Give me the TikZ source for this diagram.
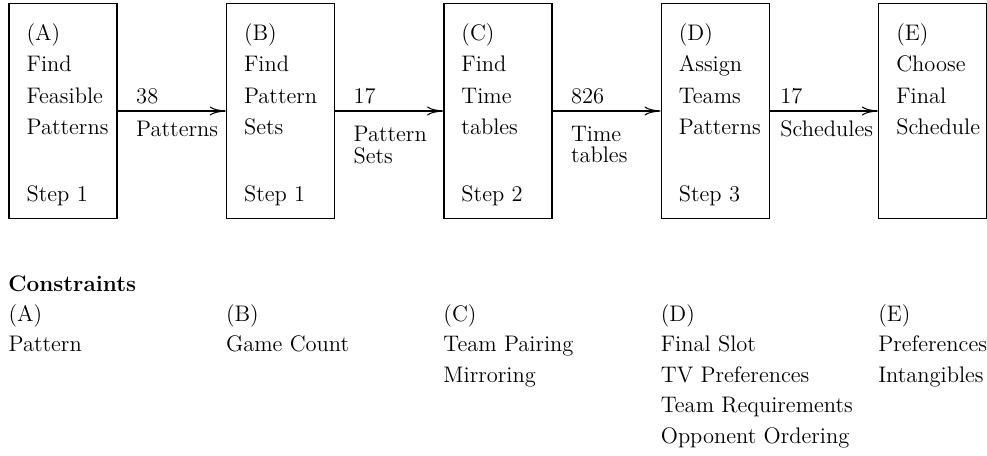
\documentclass[tikz,border=0pt]{standalone}
\usepackage{tikz}
\usetikzlibrary{arrows.meta,positioning}
\definecolor{ink}{HTML}{000000}
\tikzset{
  stage/.style={rectangle, draw=ink, line width=0.8pt, minimum width=21.6mm,
                minimum height=43mm, inner sep=0pt},
  steptext/.style={align=left, inner sep=0pt, text=ink},
  fl/.style={-{To[length=3.2mm,width=1.8mm]}, draw=ink, line width=0.6pt},
  cnt/.style={anchor=base west, inner sep=0pt, xshift=3.6mm, yshift=1.4mm},
  what/.style={anchor=north west, inner sep=0pt, align=left, xshift=3.6mm, yshift=-1.9mm,
               font=\fontsize{12.8}{12.3}\selectfont},
  cons/.style={anchor=north west, align=left, inner sep=0pt,
               font=\fontsize{12.8}{17.4}\selectfont}
}

\begin{document}
\begin{tikzpicture}[node distance=21.6mm, font=\fontsize{12.8}{18}\selectfont]
  \useasboundingbox (0,0) rectangle (19.74,9.12);
  % the five stages
  \node[stage] (A) at (1.26,6.9) {};
  \node[stage, right=of A] (B) {};
  \node[stage, right=of B] (C) {};
  \node[stage, right=of C] (D) {};
  \node[stage, right=of D] (E) {};
  \node[steptext, below right=4mm and 3.6mm of A.north west] (At) {(A)\\Find\\Feasible\\Patterns\\[20pt]Step 1};
  \node[steptext, below right=4mm and 3.6mm of B.north west] (Bt) {(B)\\Find\\Pattern\\Sets\\[20pt]Step 1};
  \node[steptext, below right=4mm and 3.6mm of C.north west] (Ct) {(C)\\Find\\Time\\tables\\[20pt]Step 2};
  \node[steptext, below right=4mm and 3.6mm of D.north west] (Dt) {(D)\\Assign\\Teams\\Patterns\\[20pt]Step 3};
  \node[steptext, below right=4mm and 3.6mm of E.north west] (Et) {(E)\\Choose\\Final\\Schedule};
  % what flows from one stage to the next
  \draw[fl] (A) -- node[cnt, pos=0] (nAB) {38} node[what, pos=0] (wAB) {Patterns} (B);
  \draw[fl] (B) -- node[cnt, pos=0] (nBC) {17} node[what, pos=0, yshift=-1mm] (wBC) {Pattern\\Sets} (C);
  \draw[fl] (C) -- node[cnt, pos=0] (nCD) {826} node[what, pos=0, yshift=-1mm] (wCD) {Time\\tables} (D);
  \draw[fl] (D) -- node[cnt, pos=0, xshift=-1.6mm] (nDE) {17} node[what, pos=0, xshift=-1.6mm] (wDE) {Schedules} (E);
  % constraints per stage
  \node[anchor=base west, inner sep=0pt, font=\fontsize{12.8}{18}\selectfont\bfseries] (ctitle) at (0.16,3.28) {Constraints};
  \node[cons] (cA) at (A.west |- 0,3.04) {(A)\\Pattern};
  \node[cons] (cB) at (B.west |- 0,3.04) {(B)\\Game Count};
  \node[cons] (cC) at (C.west |- 0,3.04) {(C)\\Team Pairing\\Mirroring};
  \node[cons] (cD) at (D.west |- 0,3.04) {(D)\\Final Slot\\TV Preferences\\Team Requirements\\Opponent Ordering};
  \node[cons] (cE) at (E.west |- 0,3.04) {(E)\\Preferences\\Intangibles};
\end{tikzpicture}
\end{document}
